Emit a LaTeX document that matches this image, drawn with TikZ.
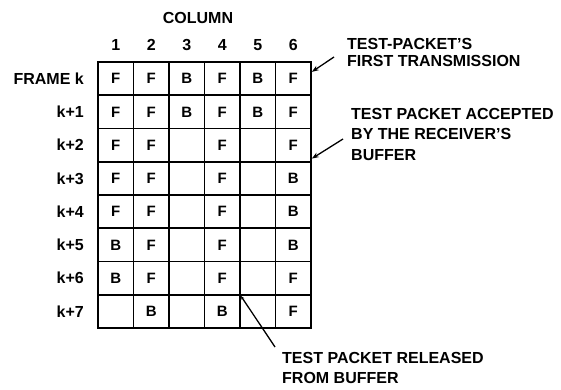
\documentclass[tikz,border=0pt]{standalone}
\usepackage{fontspec}
\setmainfont{Liberation Sans}
\usetikzlibrary{arrows.meta,positioning}

\begin{document}
\begin{tikzpicture}[x=1pt,y=-1pt,>=Stealth,
  cell/.style={rectangle,draw,line width=1.6pt,minimum width=35.5pt,minimum height=33.25pt,inner sep=0pt,font=\bfseries\fontsize{15}{15}\selectfont},
  hdr/.style={inner sep=0pt,font=\bfseries\fontsize{16}{16}\selectfont},
  note/.style={align=left,anchor=north west,inner sep=0pt,font=\bfseries\fontsize{16}{20.5}\selectfont},
  a/.style={-{Stealth[length=7pt,width=5pt]},line width=1.3pt}]
  \useasboundingbox (0,0) rectangle (561,390);
  \node[hdr] (col) at (198,18) {COLUMN};
  \foreach \c in {1,...,6}
    \node[hdr] (n\c) at ({98+35.5*(\c-0.5)},45) {\c};
  % frames k .. k+7
  \foreach \t [count=\r] in {FRAME k,k+1,k+2,k+3,k+4,k+5,k+6,k+7}
    \node[hdr,anchor=east] (f\r) at (84,{62+33.25*(\r-0.5)}) {\t};
  \foreach \row [count=\r] in {{F,F,B,F,B,F},{F,F,B,F,B,F},{F,F,{},F,{},F},{F,F,{},F,{},B},
      {F,F,{},F,{},B},{B,F,{},F,{},B},{B,F,{},F,{},F},{{},B,{},B,{},F}}
    \foreach \v [count=\c] in \row
      \node[cell] (c\r-\c) at ({98+35.5*(\c-0.5)},{62+33.25*(\r-0.5)}) {\v};
  \node[note,font=\bfseries\fontsize{16}{17.5}\selectfont] (nFirst) at (347,38) {TEST-PACKET'S\\FIRST TRANSMISSION};
  \node[note] (nAcc) at (351,108) {TEST PACKET ACCEPTED\\BY THE RECEIVER'S\\BUFFER};
  \node[note,font=\bfseries\fontsize{16}{20}\selectfont] (nRel) at (282,352) {TEST PACKET RELEASED\\FROM BUFFER};
  \coordinate (s1) at (334,57);
  \coordinate (s2) at (343,139);
  \coordinate (s3) at (275,347);
  \draw[a] (s1) -- (c1-6.20);
  \draw[a] (s2) -- (c3-6.324);
  \draw[-{Stealth[length=4pt,width=3pt]},line width=1.3pt] (s3) -- (c8-4.40);
\end{tikzpicture}
\end{document}
